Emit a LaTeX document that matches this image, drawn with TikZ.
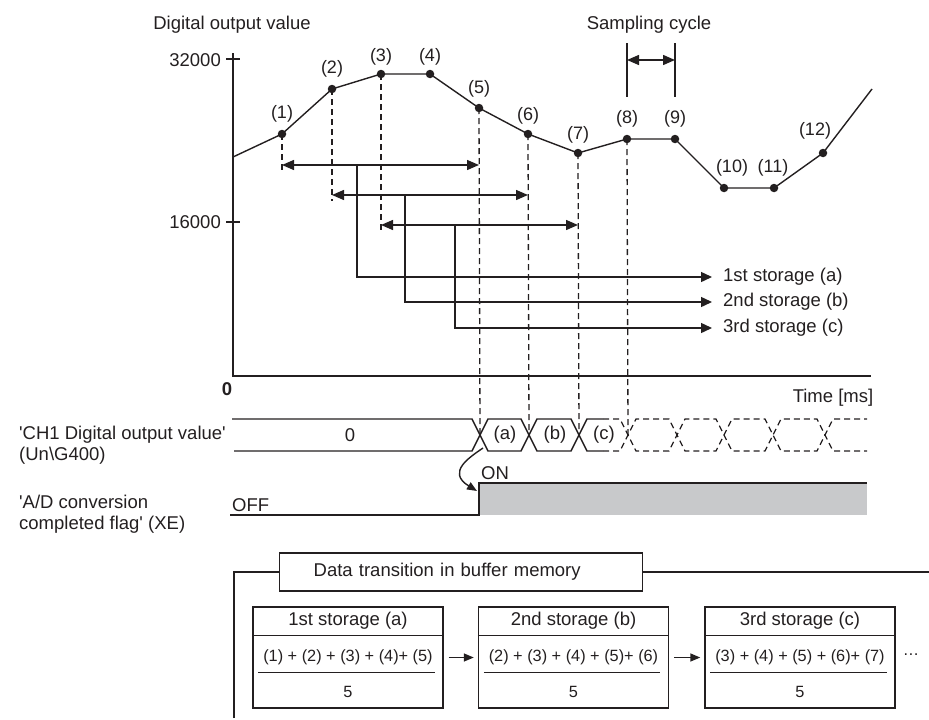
\documentclass[tikz,border=0pt]{standalone}
\usepackage{fontspec}
\setmainfont{Liberation Sans}
\usepackage{xcolor}
\usetikzlibrary{positioning,arrows.meta}
\definecolor{ink}{HTML}{231F20}
\definecolor{flag}{HTML}{C8C9CB}
\newcommand{\sq}{\textquotesingle}

\begin{document}
\begin{tikzpicture}[x=1pt,y=-1pt,
  lbl/.style={font=\fontsize{18.5}{21}\selectfont,text=ink,inner sep=0pt},
  num/.style={font=\fontsize{18}{21}\selectfont,text=ink,inner sep=0pt},
  frac/.style={font=\fontsize{16.3}{19}\selectfont,text=ink,inner sep=0pt},
  ln/.style={color=ink,line width=1.4pt},
  guide/.style={color=ink,line width=1.3pt,dash pattern=on 6pt off 4pt},
  dot/.style={circle,fill=ink,inner sep=0pt,minimum size=8.5pt},
  arr/.style={ln,-{Triangle[length=11pt,width=10pt]}},
  dbl/.style={ln,{Triangle[length=12pt,width=10pt]}-{Triangle[length=12pt,width=10pt]}},
  membox/.style={draw=ink,line width=1.4pt,minimum width=190pt,minimum height=101pt,inner sep=0pt}]
\useasboundingbox (0,0) rectangle (929,720);

% axes
\coordinate (o) at (233,376);
\draw[ln] (233,53) -- (o) -- (871,376);
\draw[ln] (226,59) -- (240,59);
\draw[ln] (226,222) -- (240,222);
\node[lbl,anchor=east] (ymax) at (221,60) {32000};
\node[lbl,anchor=east] (ymid) at (221,222) {16000};
\node[lbl,font=\fontsize{18.5}{21}\selectfont\bfseries] (zero) at (227,389) {0};
\node[lbl] (ytitle) at (232,25) {Digital output value};
\node[lbl] (xtitle) at (833,398) {Time [ms]};

% sampled values
\coordinate (p1) at (282,134);  \coordinate (p2) at (332,89);
\coordinate (p3) at (381,74);   \coordinate (p4) at (430,74);
\coordinate (p5) at (479,108);  \coordinate (p6) at (528,134);
\coordinate (p7) at (578,153);  \coordinate (p8) at (627,139);
\coordinate (p9) at (675,139);  \coordinate (p10) at (724,188);
\coordinate (p11) at (774,188); \coordinate (p12) at (823,153);
\draw[ln] (233,157) -- (p1) -- (p2) -- (p3) -- (p4) -- (p5) -- (p6) -- (p7)
  -- (p8) -- (p9) -- (p10) -- (p11) -- (p12) -- (872,89);
\foreach \p in {p1,p2,p3,p4,p5,p6,p7,p8,p9,p10,p11,p12} \node[dot] at (\p) {};
\node[num] (l1) at (282,114) {(1)};
\node[num] (l2) at (332,69) {(2)};
\node[num] (l3) at (381,57) {(3)};
\node[num] (l4) at (430,57) {(4)};
\node[num] (l5) at (479,89) {(5)};
\node[num] (l6) at (528,116) {(6)};
\node[num] (l7) at (578,135) {(7)};
\node[num] (l8) at (627,119) {(8)};
\node[num] (l9) at (675,119) {(9)};
\node[num] (l10) at (732,168) {(10)};
\node[num] (l11) at (773,168) {(11)};
\node[num] (l12) at (815,131) {(12)};

% sampling cycle
\coordinate (s1) at (627,60); \coordinate (s2) at (675,60);
\draw[ln] (627,43) -- (627,97);
\draw[ln] (675,43) -- (675,97);
\draw[dbl] (s1) -- (s2);
\node[lbl] (stitle) at (649,25) {Sampling cycle};

% averaging windows
\coordinate (a1) at (282,165); \coordinate (e1) at (479,165);
\coordinate (a2) at (332,195); \coordinate (e2) at (528,195);
\coordinate (a3) at (381,225); \coordinate (e3) at (578,225);
\draw[guide] (p1) -- (282,171);
\draw[guide] (p2) -- (332,201);
\draw[guide] (p3) -- (381,233);
\draw[dbl] (a1) -- (e1);
\draw[dbl] (a2) -- (e2);
\draw[dbl] (a3) -- (e3);
\node[lbl,anchor=west] (st1) at (723,277) {1st storage (a)};
\node[lbl,anchor=west] (st2) at (723,302) {2nd storage (b)};
\node[lbl,anchor=west] (st3) at (723,328) {3rd storage (c)};
\draw[arr] (357,165) |- ([xshift=-11pt]st1.west);
\draw[arr] (405,195) |- ([xshift=-11pt]st2.west);
\draw[arr] (455,225) |- ([xshift=-11pt]st3.west);

% 'CH1 Digital output value'
\coordinate (c0) at (480,435); \coordinate (c1) at (529,435);
\coordinate (c2) at (579,435); \coordinate (c3) at (628,435);
\draw[guide] (p5) -- (c0);
\draw[guide] (p6) -- (c1);
\draw[guide] (p7) -- (c2);
\draw[guide] (p8) -- (c3);
\draw[ln] (232,419) -- (472,419) -- (488,451) -- (521,451) -- (537,419) -- (571,419) -- (587,451) -- (603,451);
\draw[ln] (234,451) -- (472,451) -- (488,419) -- (521,419) -- (537,451) -- (571,451) -- (587,419) -- (603,419);
\draw[guide,line width=1.2pt] (603,451) -- (620,451) -- (636,419) -- (669,419) -- (685,451) -- (716,451)
  -- (732,419) -- (765,419) -- (781,451) -- (817,451) -- (833,419) -- (867,419);
\draw[guide,line width=1.2pt] (603,419) -- (620,419) -- (636,451) -- (669,451) -- (685,419) -- (716,419)
  -- (732,451) -- (765,451) -- (781,419) -- (817,419) -- (833,451) -- (867,451);
\node[lbl] (v0) at (350,435) {0};
\node[lbl] (va) at (505,435) {(a)};
\node[lbl] (vb) at (555,435) {(b)};
\node[lbl] (vc) at (604,435) {(c)};
\node[lbl,anchor=west,align=left] (row1) at (19,445.5) {\sq CH1 Digital output value\sq\\(Un\textbackslash G400)};

% 'A/D conversion completed flag'
\fill[flag] (479,483) rectangle (867,515);
\draw[ln] (230,515) -- (479,515) -- (479,483) -- (867,483);
\node[lbl,anchor=west] (off) at (232,505) {OFF};
\node[lbl,anchor=west] (on) at (481,473) {ON};
\node[lbl,anchor=west,align=left] (row2) at (19,514) {\sq A/D conversion\\completed flag\sq{} (XE)};
\coordinate (cx) at (483,448); \coordinate (flagon) at (477,491);
\draw[ln,-{Triangle[length=10pt,width=8pt]}] (cx) .. controls (470,457) and (446,472) .. (flagon);

% buffer memory
\node[draw=ink,line width=1.4pt,minimum width=363pt,minimum height=38pt,text width=295pt,
  inner xsep=34pt,align=left,lbl,anchor=west] (title) at (279,572) {Data transition in buffer memory};
\draw[ln] (234,718) |- (title.west);
\draw[ln] (title.east) -- (929,572);

\node[membox] (b1) at (348,657.5) {};
\node[membox] (b2) at (573.5,657.5) {};
\node[membox] (b3) at (800,657.5) {};
\draw[ln] ([yshift=-29pt]b1.north west) -- ([yshift=-29pt]b1.north east);
\draw[ln] ([yshift=-29pt]b2.north west) -- ([yshift=-29pt]b2.north east);
\draw[ln] ([yshift=-29pt]b3.north west) -- ([yshift=-29pt]b3.north east);
\node[lbl] (h1) at ([yshift=-14.5pt]b1.north) {1st storage (a)};
\node[lbl] (h2) at ([yshift=-14.5pt]b2.north) {2nd storage (b)};
\node[lbl] (h3) at ([yshift=-14.5pt]b3.north) {3rd storage (c)};
\node[frac] (n1) at ([yshift=0.5pt]b1.center) {(1) + (2) + (3) + (4)+ (5)};
\node[frac] (n2) at ([yshift=0.5pt]b2.center) {(2) + (3) + (4) + (5)+ (6)};
\node[frac] (n3) at ([yshift=0.5pt]b3.center) {(3) + (4) + (5) + (6)+ (7)};
\draw[ln] ([xshift=6pt,yshift=-66pt]b1.north west) -- ([xshift=-9pt,yshift=-66pt]b1.north east);
\draw[ln] ([xshift=6pt,yshift=-66pt]b2.north west) -- ([xshift=-9pt,yshift=-66pt]b2.north east);
\draw[ln] ([xshift=6pt,yshift=-66pt]b3.north west) -- ([xshift=-9pt,yshift=-66pt]b3.north east);
\node[frac] (d1) at ([yshift=-86pt]b1.north) {5};
\node[frac] (d2) at ([yshift=-86pt]b2.north) {5};
\node[frac] (d3) at ([yshift=-86pt]b3.north) {5};
\draw[arr,-{Triangle[length=10pt,width=8pt]},shorten <=5pt,shorten >=4pt] (b1) -- (b2);
\draw[arr,-{Triangle[length=10pt,width=8pt]},shorten <=5pt,shorten >=4pt] (b2) -- (b3);
\node[frac] (more) at (911,655) {\dots};
\end{tikzpicture}
\end{document}
